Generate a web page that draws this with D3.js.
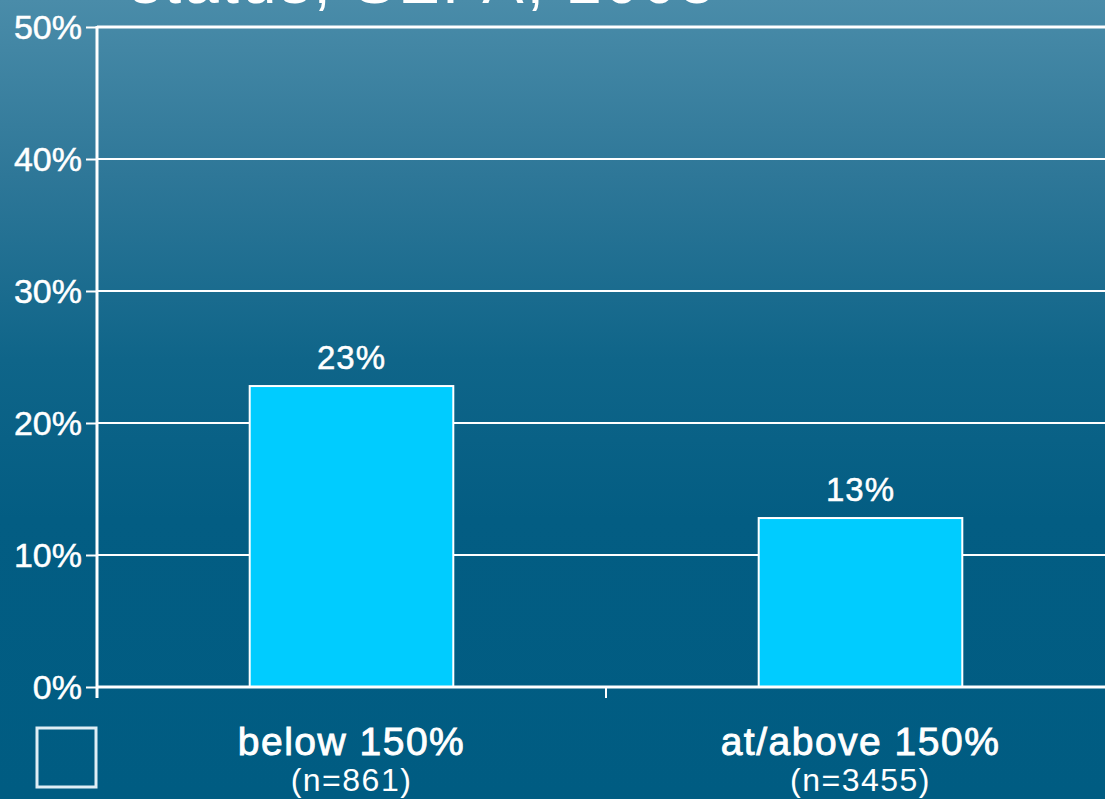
<!DOCTYPE html>
<html><head><meta charset="utf-8">
<script src="https://cdn.jsdelivr.net/npm/d3@7"></script>
<style>html,body{margin:0;padding:0;overflow:hidden;background:#005c82}</style>
</head><body>
<svg id="c" width="1105" height="799"></svg>
<script>
const categories = ["below 150%", "at/above 150%"];
const sampleSizes = ["(n=861)", "(n=3455)"];
const values = [22.8, 12.8];
const valueLabels = ["23%", "13%"];
const yTicks = [0, 10, 20, 30, 40, 50];
const titleText = "status, SEPA, 2003";

const svg = d3.select("#c");
const W = 1105, H = 799;
const defs = svg.append("defs");
const g = defs.append("linearGradient").attr("id","bg").attr("x1",0).attr("y1",0).attr("x2",0).attr("y2",1);
[[0,"#4a8ca9"],[0.22,"#2e7798"],[0.45,"#0f6589"],[0.65,"#035d83"],[1,"#005c82"]].forEach(s=>g.append("stop").attr("offset",s[0]).attr("stop-color",s[1]));
svg.append("rect").attr("width",W).attr("height",H).attr("fill","url(#bg)");

const font = "'Liberation Sans', Arial, sans-serif";
svg.append("text").attr("x",130).attr("y",3).attr("fill","#fff")
  .attr("font-family",font).attr("font-size",62).attr("letter-spacing",3).text(titleText);

const x = d3.scaleBand().domain(categories).range([97,1115]);
const y = d3.scaleLinear().domain([0,50]).range([687,27]);

// gridlines
svg.append("g").selectAll("line").data(yTicks.filter(d=>d>0)).join("line")
  .attr("x1",97).attr("x2",W).attr("y1",d=>y(d)).attr("y2",d=>y(d))
  .attr("stroke","#fff").attr("stroke-width",d=>d===50?3:2);

// bars
const bw = x.bandwidth()*0.4;
svg.append("g").selectAll("rect").data(values).join("rect")
  .attr("x",(d,i)=>x(categories[i])+x.bandwidth()/2-bw/2)
  .attr("y",d=>y(d)).attr("width",bw).attr("height",d=>y(0)-y(d))
  .attr("fill","#00ccff").attr("stroke","#fff").attr("stroke-width",2);

// value labels
svg.append("g").selectAll("text").data(values).join("text")
  .attr("x",(d,i)=>x(categories[i])+x.bandwidth()/2)
  .attr("y",d=>y(d)-17).attr("text-anchor","middle").attr("fill","#fff")
  .attr("stroke","#fff").attr("stroke-width",0.5)
  .attr("font-family",font).attr("font-size",33).attr("letter-spacing",1)
  .text((d,i)=>valueLabels[i]);

// y axis
const ya = svg.append("g").attr("transform","translate(97,0)")
  .call(d3.axisLeft(y).tickValues(yTicks).tickFormat(d=>d+"%").tickSize(11).tickPadding(4));
ya.select(".domain").remove();
ya.selectAll(".tick line").attr("stroke","#fff").attr("stroke-width",2);
ya.selectAll(".tick text").attr("fill","#fff").attr("stroke","#fff").attr("stroke-width",0.5)
  .attr("font-family",font).attr("font-size",34).attr("dy","0.34em");
svg.append("line").attr("x1",97).attr("x2",97).attr("y1",y(50)-1).attr("y2",698).attr("stroke","#fff").attr("stroke-width",3);

// x axis baseline
svg.append("line").attr("x1",97).attr("x2",W).attr("y1",y(0)).attr("y2",y(0)).attr("stroke","#fff").attr("stroke-width",3);
svg.append("line").attr("x1",x(categories[1])).attr("x2",x(categories[1])).attr("y1",y(0)).attr("y2",698).attr("stroke","#fff").attr("stroke-width",2);

// category labels
const cl = svg.append("g").selectAll("g").data(categories).join("g")
  .attr("transform",d=>`translate(${x(d)+x.bandwidth()/2},0)`);
cl.append("text").attr("y",755).attr("text-anchor","middle").attr("fill","#fff")
  .attr("stroke","#fff").attr("stroke-width",0.9)
  .attr("font-family",font).attr("font-size",39).attr("letter-spacing",1.5).text(d=>d);
cl.append("text").attr("y",791).attr("text-anchor","middle").attr("fill","#fff")
  .attr("font-family",font).attr("font-size",32).attr("letter-spacing",1.5).text((d,i)=>sampleSizes[i]);

// legend box
svg.append("rect").attr("x",37).attr("y",728).attr("width",59).attr("height",59)
  .attr("fill","none").attr("stroke","#dfeef5").attr("stroke-width",3);
</script>
</body></html>
